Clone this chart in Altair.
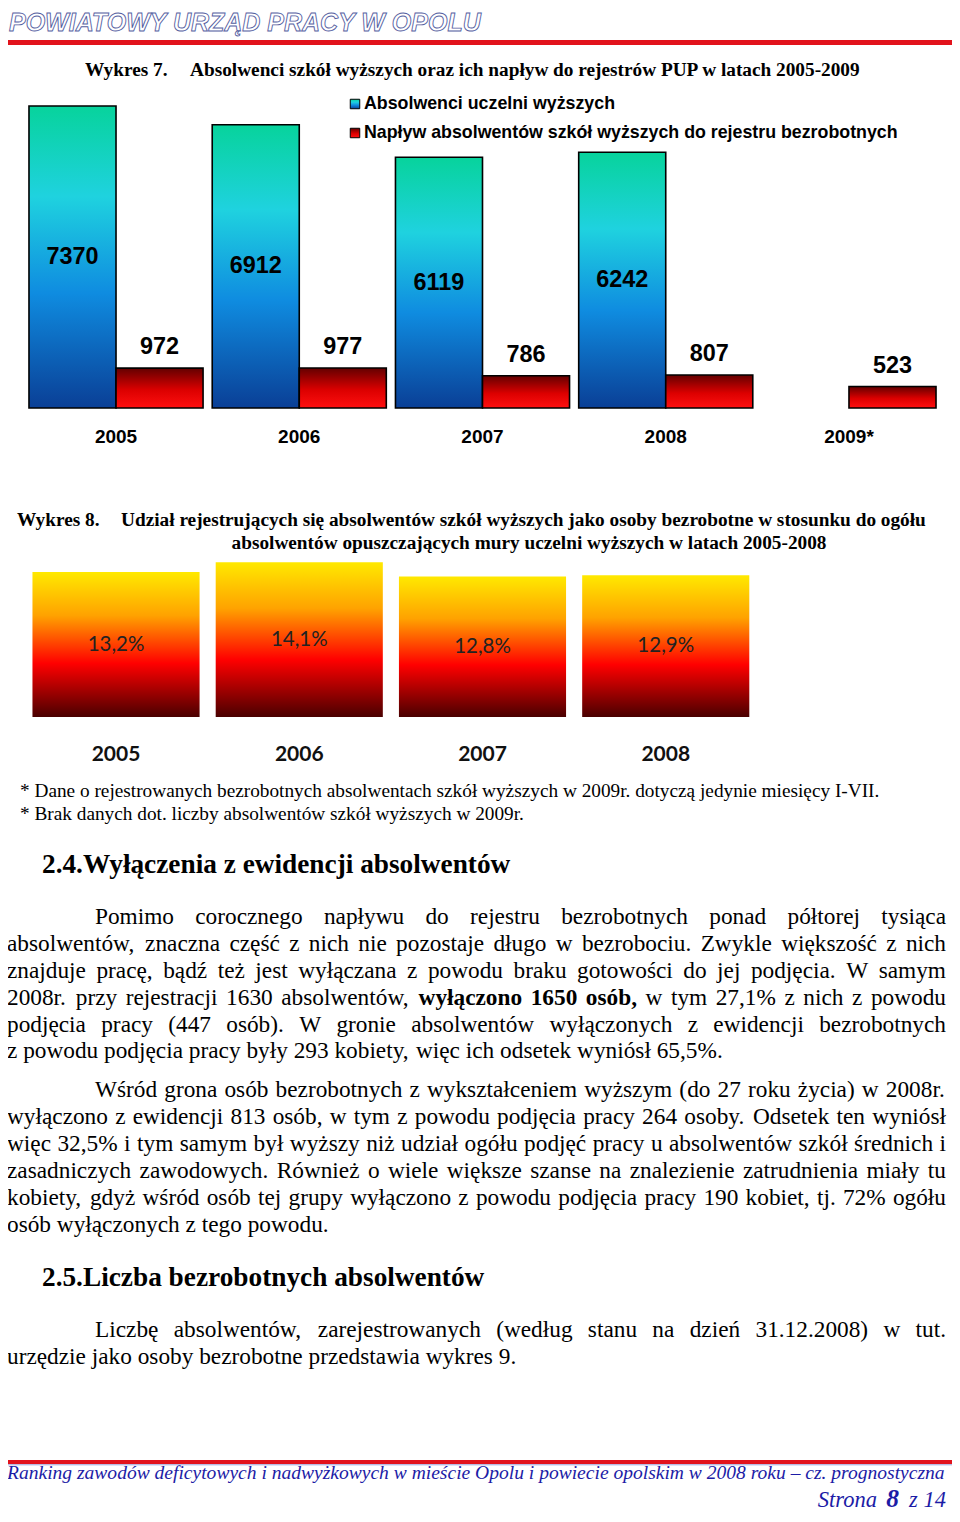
import altair as alt
import pandas as pd

# ---------------- data ----------------
years7 = ["2005", "2006", "2007", "2008", "2009*"]
graduates = [7370, 6912, 6119, 6242, None]
inflow = [972, 977, 786, 807, 523]
series7 = ["Absolwenci uczelni wyższych",
           "Napływ absolwentów szkół wyższych do rejestru bezrobotnych"]

years8 = ["2005", "2006", "2007", "2008"]
share = [13.2, 14.1, 12.8, 12.9]

header_text = "POWIATOWY URZĄD PRACY W OPOLU"
fig7_no = "Wykres 7."
fig7_title = "Absolwenci szkół wyższych oraz ich napływ do rejestrów PUP w latach 2005-2009"
fig8_no = "Wykres 8."
fig8_title = ["Udział rejestrujących się absolwentów szkół wyższych jako osoby bezrobotne w stosunku do ogółu",
              "absolwentów opuszczających mury uczelni wyższych w latach 2005-2008"]
footnotes = ["* Dane o rejestrowanych bezrobotnych absolwentach szkół wyższych w 2009r. dotyczą jedynie miesięcy I-VII.",
             "* Brak danych dot. liczby absolwentów szkół wyższych w 2009r."]
heading_24 = "2.4.Wyłączenia z ewidencji absolwentów"
heading_25 = "2.5.Liczba bezrobotnych absolwentów"
para1 = ["Pomimo corocznego napływu do rejestru bezrobotnych ponad półtorej tysiąca",
         "absolwentów, znaczna część z nich nie pozostaje długo w bezrobociu. Zwykle większość z nich",
         "znajduje pracę, bądź też jest wyłączana z powodu braku gotowości do jej podjęcia. W samym",
         "2008r. przy rejestracji 1630 absolwentów, {wyłączono 1650 osób,} w tym 27,1% z nich z powodu",
         "podjęcia pracy (447 osób). W gronie absolwentów wyłączonych z ewidencji bezrobotnych",
         "z powodu podjęcia pracy były 293 kobiety, więc ich odsetek wyniósł 65,5%."]
para2 = ["Wśród grona osób bezrobotnych z wykształceniem wyższym (do 27 roku życia) w 2008r.",
         "wyłączono z ewidencji 813 osób, w tym z powodu podjęcia pracy 264 osoby. Odsetek ten wyniósł",
         "więc 32,5% i tym samym był wyższy niż udział ogółu podjęć pracy u absolwentów szkół średnich i",
         "zasadniczych zawodowych. Również o wiele większe szanse na znalezienie zatrudnienia miały tu",
         "kobiety, gdyż wśród osób tej grupy wyłączono z powodu podjęcia pracy 190 kobiet, tj. 72% ogółu",
         "osób wyłączonych z tego powodu."]
para3 = ["Liczbę absolwentów, zarejestrowanych (według stanu na dzień 31.12.2008) w tut.",
         "urzędzie jako osoby bezrobotne przedstawia wykres 9."]
footer_text = "Ranking zawodów deficytowych i nadwyżkowych w mieście Opolu i powiecie opolskim w 2008 roku – cz. prognostyczna"
page_parts = ["Strona", "8", "z 14"]

# ---------------- layout helpers ----------------
OFF = 8
SERIF = "Liberation Serif"
SANS = "Liberation Sans"

UP = "ABCDEFGHIJKLMNOPQRSTUVWXYZ"
LO = "abcdefghijklmnopqrstuvwxyz"
REG = dict(zip(UP, [722, 667, 667, 722, 611, 556, 722, 722, 333, 389, 722, 611, 889, 722, 722, 556, 722, 667, 556, 611, 722, 722, 944, 722, 722, 611]))
REG.update(zip(LO, [444, 500, 444, 500, 444, 333, 500, 500, 278, 278, 500, 278, 778, 500, 500, 500, 500, 333, 389, 278, 500, 500, 722, 500, 500, 444]))
REG.update({" ": 250, ",": 250, ".": 250, "-": 333, "%": 833, "(": 333, ")": 333, ":": 278, "*": 500, "–": 500})
REG.update({d: 500 for d in "0123456789"})
BOLD = dict(zip(UP, [722, 667, 722, 722, 667, 611, 778, 778, 389, 500, 778, 667, 944, 722, 778, 611, 778, 722, 556, 667, 722, 722, 1000, 722, 722, 667]))
BOLD.update(zip(LO, [500, 556, 444, 556, 444, 333, 500, 556, 278, 333, 556, 278, 833, 556, 500, 556, 556, 444, 389, 333, 556, 500, 722, 500, 500, 444]))
BOLD.update({" ": 250, ",": 250, ".": 250, "-": 333, "%": 1000, "(": 333, ")": 333, ":": 333})
BOLD.update({d: 500 for d in "0123456789"})
PL = str.maketrans("ąćęłńóśźżĄĆĘŁŃÓŚŹŻ", "acelnoszzACELNOSZZ")


def em(s, table):
    return sum(table.get(c, 500) for c in s.translate(PL)) / 1000.0


BODY = 23.3
LEFT, RIGHT = 7, 946
INDENT = 95


def words_of(line):
    out, bold = [], False
    for w in line.split(" "):
        b = bold
        if w.startswith("{"):
            w = w[1:]
            b = bold = True
        if w.endswith("}"):
            w = w[:-1]
            bold = False
        out.append((w, b))
    return out


word_rows = []


def set_paragraph(lines, ys):
    for k, (line, yc) in enumerate(zip(lines, ys)):
        toks = words_of(line)
        left = INDENT if k == 0 else LEFT
        widths = [em(w, BOLD if b else REG) * BODY for w, b in toks]
        last = k == len(lines) - 1
        if last or len(toks) < 2:
            gap = 0.25 * BODY
        else:
            gap = (RIGHT - left - sum(widths)) / (len(toks) - 1)
        x = left
        for (w, b), wd in zip(toks, widths):
            word_rows.append({"t": w, "x": x - OFF, "y": yc - OFF, "b": b})
            x += wd + gap


set_paragraph(para1, [917, 944, 971, 998, 1024.5, 1051])
set_paragraph(para2, [1090, 1117, 1144, 1171, 1198, 1225])
set_paragraph(para3, [1330, 1357])
words = pd.DataFrame(word_rows)


def txt(s, x, y, size, font=SERIF, weight="normal", style="normal", align="left",
        color="black", baseline="middle", **kw):
    return alt.Chart(pd.DataFrame({"t": [s]})).mark_text(
        align=align, baseline=baseline, font=font, fontSize=size, fontWeight=weight,
        fontStyle=style, color=color, **kw
    ).encode(x=alt.value(x - OFF), y=alt.value(y - OFF), text="t:N")


def rule(x1, x2, y, color, w):
    return alt.Chart(pd.DataFrame({"a": [0]})).mark_rule(color=color, strokeWidth=w).encode(
        x=alt.value(x1 - OFF), x2=alt.value(x2 - OFF), y=alt.value(y - OFF))


def grad(stops):
    return alt.LinearGradient(gradient="linear", x1=0, x2=0, y1=0, y2=1,
                              stops=[alt.GradientStop(offset=o, color=c) for o, c in stops])


BLUE = grad([(0, "#07d39c"), (0.3, "#1fd2df"), (0.62, "#0f8ce0"), (1, "#0a3f96")])
RED = grad([(0, "#640000"), (0.55, "#dc0000"), (1, "#ff1010")])
FIRE = grad([(0, "#ffe900"), (0.3, "#ffa200"), (0.63, "#ff0000"), (1, "#4a0000")])


def xs():
    return alt.Scale(domain=[-0.5, 4.5], range=[24.4 - OFF, 940.6 - OFF], nice=False, zero=False)


def ys7():
    return alt.Scale(domain=[0, 8000], range=[408 - OFF, 408 - OFF - 8000 * 302 / 7370], nice=False)


def ys8():
    return alt.Scale(domain=[0, 15], range=[717 - OFF, 717 - OFF - 15 * 10.98], nice=False)


layers = []

# ---------------- header / footer ----------------
layers.append(txt(header_text, 9, 31, 25, font=SANS, weight="bold", style="italic",
                  baseline="alphabetic", fill="white", stroke="#55609f", strokeWidth=0.9))
layers.append(rule(3, 952, 42.5, "#e2131c", 5))
layers.append(rule(3, 952, 1462, "#e2131c", 4))
layers.append(rule(3, 952, 1464.8, "#9aa0d8", 1))
layers.append(txt(footer_text, 7, 1479, 19.55, style="italic", color="#1c1ca6",
                  baseline="alphabetic"))
layers.append(txt(page_parts[2], 946, 1506.5, 22.5, style="italic", color="#1c1ca6",
                  align="right", baseline="alphabetic"))
layers.append(txt(page_parts[1], 899, 1506.5, 25.5, style="italic", weight="bold", color="#1c1ca6",
                  align="right", baseline="alphabetic"))
layers.append(txt(page_parts[0], 877, 1506.5, 22.5, style="italic", color="#1c1ca6",
                  align="right", baseline="alphabetic"))

# ---------------- chart 7 ----------------
layers.append(txt(fig7_no, 85, 70, 19.3, weight="bold"))
layers.append(txt(fig7_title, 190, 70, 19.3, weight="bold"))

leg = pd.DataFrame({"s": series7})
for i, (g, yc) in enumerate([(BLUE, 104), (RED, 133)]):
    layers.append(alt.Chart(leg.iloc[[i]]).mark_square(size=90, fill=g, stroke="black",
                                                       strokeWidth=1, opacity=1).encode(
        x=alt.value(355 - OFF), y=alt.value(yc - OFF)))
    layers.append(alt.Chart(leg.iloc[[i]]).mark_text(
        align="left", baseline="middle", font=SANS, fontSize=17.8, fontWeight="bold", color="black"
    ).encode(x=alt.value(364 - OFF), y=alt.value(yc - OFF), text="s:N"))

df7 = pd.DataFrame({"year": years7, "idx": list(range(len(years7))),
                    "grad": graduates, "inflow": inflow})
blue = df7.dropna(subset=["grad"])

layers.append(alt.Chart(blue).transform_calculate(lo="datum.idx - 0.475", hi="datum.idx")
              .mark_bar(fill=BLUE, stroke="black", strokeWidth=1.6)
              .encode(x=alt.X("lo:Q", scale=xs(), axis=None), x2="hi:Q",
                      y=alt.Y("grad:Q", scale=ys7(), axis=None), y2=alt.datum(0)))
layers.append(alt.Chart(df7).transform_calculate(lo="datum.idx", hi="datum.idx + 0.475")
              .mark_bar(fill=RED, stroke="black", strokeWidth=1.6)
              .encode(x=alt.X("lo:Q", scale=xs(), axis=None), x2="hi:Q",
                      y=alt.Y("inflow:Q", scale=ys7(), axis=None), y2=alt.datum(0)))
layers.append(alt.Chart(blue).transform_calculate(cx="datum.idx - 0.2375", cy="datum.grad / 2")
              .mark_text(font=SANS, fontWeight="bold", fontSize=23.4, baseline="middle", color="black")
              .encode(x=alt.X("cx:Q", scale=xs(), axis=None),
                      y=alt.Y("cy:Q", scale=ys7(), axis=None), text="grad:Q"))
layers.append(alt.Chart(df7).transform_calculate(cx="datum.idx + 0.2375")
              .mark_text(font=SANS, fontWeight="bold", fontSize=23.4, baseline="middle", dy=-21,
                         color="black")
              .encode(x=alt.X("cx:Q", scale=xs(), axis=None),
                      y=alt.Y("inflow:Q", scale=ys7(), axis=None), text="inflow:Q"))
layers.append(alt.Chart(df7).mark_text(font=SANS, fontWeight="bold", fontSize=19, baseline="middle",
                                       color="black")
              .encode(x=alt.X("idx:Q", scale=xs(), axis=None), y=alt.value(437 - OFF), text="year:N"))

# ---------------- chart 8 ----------------
layers.append(txt(fig8_no, 17, 520, 19.3, weight="bold"))
layers.append(txt(fig8_title[0], 121, 520, 19.3, weight="bold"))
layers.append(txt(fig8_title[1], 529, 543, 19.3, weight="bold", align="center"))

df8 = pd.DataFrame({"year": years8, "idx": list(range(len(years8))), "share": share})
df8["lab"] = [f"{v:.1f}%".replace(".", ",") for v in share]
layers.append(alt.Chart(df8).transform_calculate(lo="datum.idx - 0.456", hi="datum.idx + 0.456")
              .mark_bar(fill=FIRE)
              .encode(x=alt.X("lo:Q", scale=xs(), axis=None), x2="hi:Q",
                      y=alt.Y("share:Q", scale=ys8(), axis=None), y2=alt.datum(0)))
layers.append(alt.Chart(df8).transform_calculate(cy="datum.share / 2")
              .mark_text(font="Lato", fontSize=20.5, baseline="middle", color="#222222")
              .encode(x=alt.X("idx:Q", scale=xs(), axis=None),
                      y=alt.Y("cy:Q", scale=ys8(), axis=None), text="lab:N"))
layers.append(alt.Chart(df8).mark_text(font="Lato", fontWeight="bold", fontSize=21, baseline="middle",
                                       color="#111111")
              .encode(x=alt.X("idx:Q", scale=xs(), axis=None), y=alt.value(755 - OFF), text="year:N"))

# ---------------- footnotes, headings, body ----------------
layers.append(txt(footnotes[0], 20, 791, 19.3))
layers.append(txt(footnotes[1], 20, 814, 19.3))
layers.append(txt(heading_24, 42, 865, 27.3, weight="bold"))
layers.append(txt(heading_25, 42, 1278, 27.3, weight="bold"))

for b, wt in [(False, "normal"), (True, "bold")]:
    layers.append(alt.Chart(words[words["b"] == b]).mark_text(
        align="left", baseline="middle", font=SERIF, fontSize=BODY, fontWeight=wt, color="black"
    ).encode(x=alt.X("x:Q", scale=None, axis=None), y=alt.Y("y:Q", scale=None, axis=None), text="t:N"))

chart = alt.layer(*layers).resolve_scale(x="independent", y="independent").properties(
    width=944, height=1504, padding=0, autosize=alt.AutoSizeParams(type="none")
).configure_view(strokeWidth=0)

chart.save("out.html", embed_options={"renderer": "svg", "actions": False})
